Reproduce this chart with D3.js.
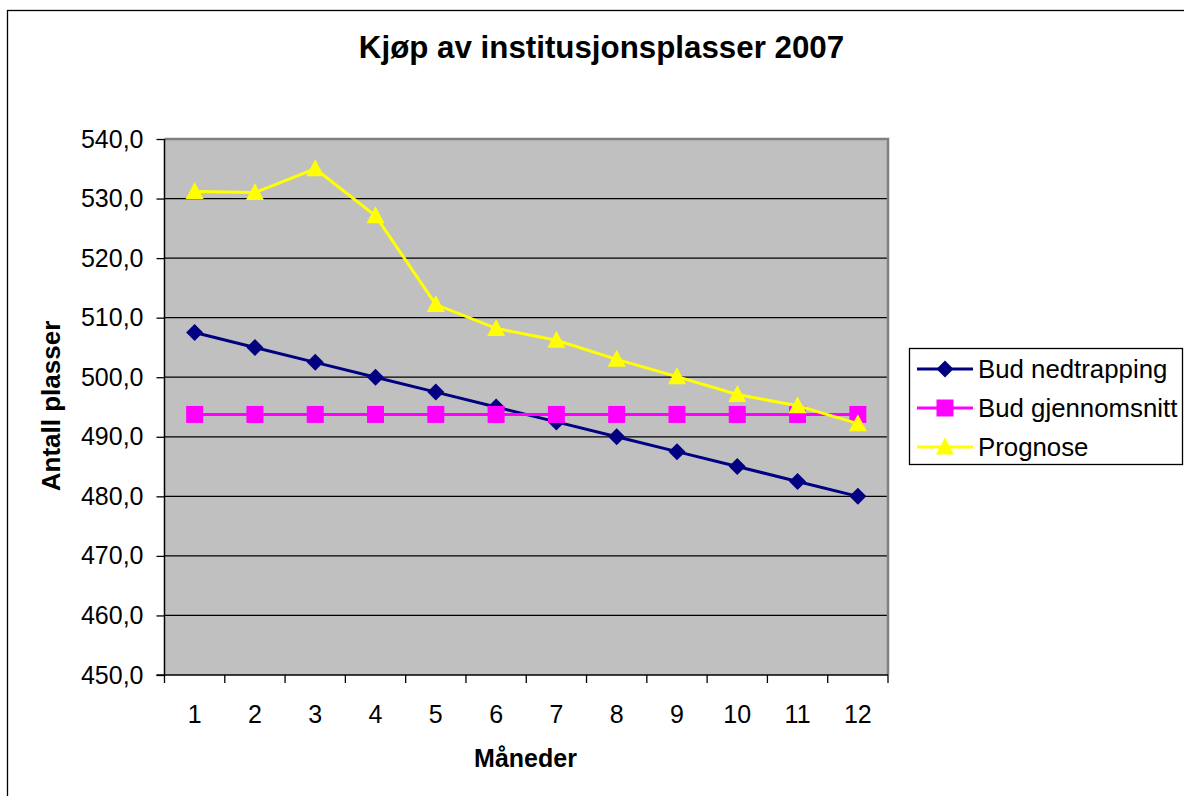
<!DOCTYPE html>
<html><head><meta charset="utf-8">
<script src="https://cdn.jsdelivr.net/npm/d3@7"></script>
<style>body{margin:0;background:#fff}svg{display:block;font-family:"Liberation Sans",Arial,sans-serif}</style>
</head><body>
<svg id="c" width="1184" height="796"></svg>
<script>
const months = ["1","2","3","4","5","6","7","8","9","10","11","12"];
const budNedtrapping = [507.5,505.0,502.5,500.0,497.5,495.0,492.5,490.0,487.5,485.0,482.5,480.0];
const budGjennomsnitt = [493.75,493.75,493.75,493.75,493.75,493.75,493.75,493.75,493.75,493.75,493.75,493.75];
const prognose = [531.2,531.0,535.0,527.1,512.2,508.2,506.2,503.0,500.1,497.1,495.2,492.2];
const yTicks = [450,460,470,480,490,500,510,520,530,540];
const seriesNames = ["Bud nedtrapping","Bud gjennomsnitt","Prognose"];
const seriesColors = ["#000080","#FF00FF","#FFFF00"];
const seriesShapes = ["diamond","square","triangle"];

const svg = d3.select("#c");
svg.append("rect").attr("x",7.5).attr("y",10.5).attr("width",1300).attr("height",900)
  .attr("fill","#fff").attr("stroke","#000").attr("stroke-width",1.3);

const L=164.5,R=888,T=139,B=675;
const x = d3.scaleBand().domain(months).range([L,R]);
const y = d3.scaleLinear().domain([450,540]).range([B,T]);

svg.append("rect").attr("x",L).attr("y",T).attr("width",R-L).attr("height",B-T).attr("fill","#C0C0C0");
svg.append("g").selectAll("line").data(yTicks.slice(1,-1)).join("line")
  .attr("x1",L).attr("x2",R).attr("y1",d=>y(d)).attr("y2",d=>y(d))
  .attr("stroke","#000").attr("stroke-width",1.2);
svg.append("path").attr("d",`M${L},${T}H${R}V${B}`).attr("fill","none").attr("stroke","#808080").attr("stroke-width",2.5);

const yAx = svg.append("g").attr("transform",`translate(${L},0)`)
  .call(d3.axisLeft(y).tickValues(yTicks).tickSize(8).tickPadding(13).tickFormat(d=>d3.format(".1f")(d).replace(".",",")));
yAx.select(".domain").attr("stroke","#000").attr("stroke-width",1.5).attr("d",`M0,${T}V${B+0.5}`);
yAx.selectAll(".tick line").attr("stroke","#000").attr("stroke-width",1.3);
yAx.selectAll("text").attr("font-size",25).attr("fill","#000").attr("font-family","Liberation Sans, Arial, sans-serif");

const xAx = svg.append("g").attr("transform",`translate(0,${B})`)
  .call(d3.axisBottom(x).tickSize(0).tickPadding(30));
xAx.select(".domain").attr("stroke","#000").attr("stroke-width",1.5).attr("d",`M${L-8},0H${R}`);
xAx.selectAll("text").attr("font-size",25).attr("fill","#000").attr("font-family","Liberation Sans, Arial, sans-serif");
const bounds = months.map(m=>x(m)).concat([R]);
svg.append("g").selectAll("line").data(bounds).join("line")
  .attr("x1",d=>d).attr("x2",d=>d).attr("y1",B).attr("y2",B+8).attr("stroke","#000").attr("stroke-width",1.3);

const data = [budNedtrapping,budGjennomsnitt,prognose];
const cx = m=>x(m)+x.bandwidth()/2;
function marker(g,shape,color,px,py){
  if(shape==="diamond"){
    g.append("path").attr("d",`M${px},${py-8.5}L${px+8.5},${py}L${px},${py+8.5}L${px-8.5},${py}Z`).attr("fill",color);
  } else if(shape==="square"){
    g.append("rect").attr("x",px-8.5).attr("y",py-8.5).attr("width",17).attr("height",17).attr("fill",color);
  } else {
    g.append("path").attr("d",`M${px},${py-9.5}L${px+9},${py+7.5}L${px-9},${py+7.5}Z`).attr("fill",color);
  }
}
data.forEach((vals,i)=>{
  const g = svg.append("g");
  const line = d3.line().x((d,j)=>cx(months[j])).y(d=>y(d));
  g.append("path").datum(vals).attr("d",line).attr("fill","none").attr("stroke",seriesColors[i]).attr("stroke-width",3);
  vals.forEach((v,j)=>marker(g,seriesShapes[i],seriesColors[i],cx(months[j]),y(v)));
});

const lg = svg.append("g");
lg.append("rect").attr("x",909.5).attr("y",348.5).attr("width",273).attr("height",116)
  .attr("fill","#fff").attr("stroke","#000").attr("stroke-width",1.3);
const rowsY=[369,408,447];
seriesNames.forEach((n,i)=>{
  lg.append("line").attr("x1",917).attr("x2",973).attr("y1",rowsY[i]).attr("y2",rowsY[i])
    .attr("stroke",seriesColors[i]).attr("stroke-width",3);
  marker(lg,seriesShapes[i],seriesColors[i],945,rowsY[i]);
  lg.append("text").attr("x",978).attr("y",rowsY[i]).attr("dy","0.36em")
    .attr("font-size",25.8).text(n);
});

svg.append("text").attr("x",601.5).attr("y",58.3).attr("text-anchor","middle")
  .attr("font-size",31.3).attr("font-weight","bold").text("Kjøp av institusjonsplasser 2007");
svg.append("text").attr("x",525.5).attr("y",766.5).attr("text-anchor","middle")
  .attr("font-size",25).attr("font-weight","bold").text("Måneder");
svg.append("text").attr("transform","translate(60,406) rotate(-90)").attr("text-anchor","middle")
  .attr("font-size",26).attr("font-weight","bold").text("Antall plasser");
</script>
</body></html>
